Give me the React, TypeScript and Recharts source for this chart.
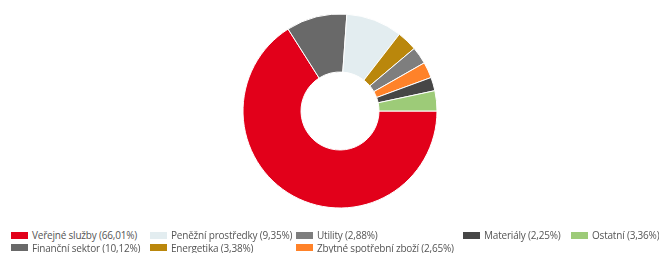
import { PieChart, Pie, Cell } from 'recharts'

const sectors = [
  'Veřejné služby',
  'Finanční sektor',
  'Peněžní prostředky',
  'Energetika',
  'Utility',
  'Zbytné spotřební zboží',
  'Materiály',
  'Ostatní',
]
const shares = [66.01, 10.12, 9.35, 3.38, 2.88, 2.65, 2.25, 3.36]
const colors = ['#E2001A', '#696969', '#E3EDF0', '#BA870C', '#7E7E7E', '#FF8229', '#464646', '#9DCB78']

const data = sectors.map((name, i) => ({ name, value: shares[i] }))

// legend placement per item (swatch left edge, row)
const legendX = [11, 11, 150, 150, 296, 296, 463, 571]
const legendRow = [0, 1, 0, 1, 0, 1, 0, 0]

const fmt = (v: number) => v.toFixed(2).replace('.', ',')

export default function App() {
  return (
    <div style={{ position: 'fixed', left: 0, top: 0, width: 659, height: 253, background: '#fff', fontFamily: '"Open Sans", sans-serif' }}>
      <PieChart width={659} height={220} margin={{ top: 0, right: 0, bottom: 0, left: 0 }}>
        <Pie
          data={data}
          dataKey="value"
          nameKey="name"
          cx={340}
          cy={111}
          innerRadius={39}
          outerRadius={97}
          startAngle={0}
          endAngle={-360}
          stroke="#fff"
          strokeWidth={1}
          isAnimationActive={false}
        >
          {data.map((d, i) => (
            <Cell key={d.name} fill={colors[i]} />
          ))}
        </Pie>
      </PieChart>
      {data.map((d, i) => (
        <div
          key={d.name}
          style={{
            position: 'absolute',
            left: legendX[i],
            top: 229 + legendRow[i] * 12.5,
            display: 'flex',
            alignItems: 'center',
            fontSize: 10,
            letterSpacing: -0.2,
            color: '#555',
            whiteSpace: 'nowrap',
            lineHeight: '12px',
          }}
        >
          <span style={{ display: 'inline-block', width: 17, height: 7, background: colors[i], marginRight: 4 }} />
          {d.name} ({fmt(d.value)}%)
        </div>
      ))}
    </div>
  )
}
